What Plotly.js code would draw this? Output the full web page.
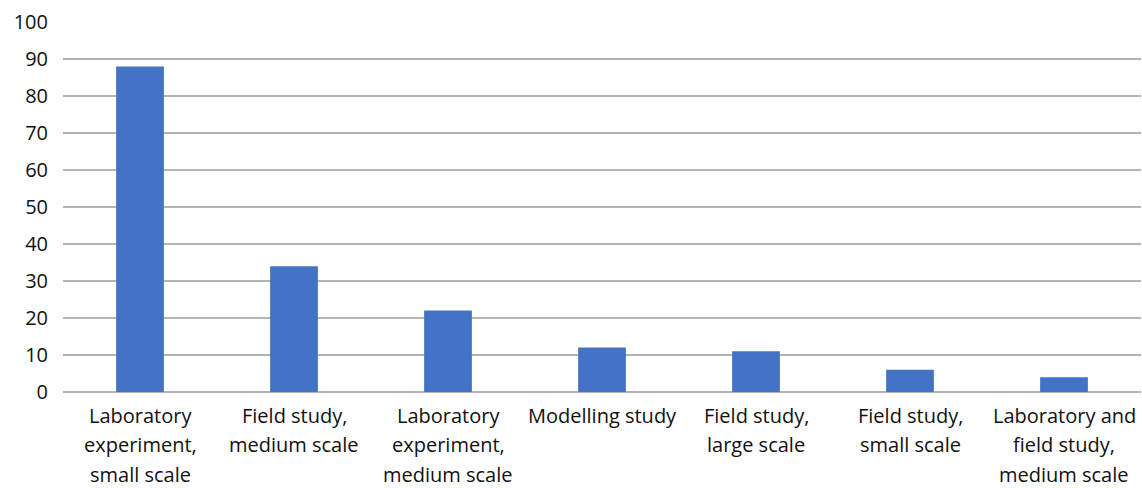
<!DOCTYPE html>
<html><head><meta charset="utf-8">
<script src="https://cdn.plot.ly/plotly-3.0.1.min.js"></script>
<style>html,body{margin:0;padding:0;background:#fff}#c{width:1142px;height:488px}</style>
</head><body><div id="c"></div>
<script>
const categories = ["Laboratory experiment, small scale","Field study, medium scale","Laboratory experiment, medium scale","Modelling study","Field study, large scale","Field study, small scale","Laboratory and field study, medium scale"];
const labelLines = [["Laboratory","experiment,","small scale"],["Field study,","medium scale"],["Laboratory","experiment,","medium scale"],["Modelling study"],["Field study,","large scale"],["Field study,","small scale"],["Laboratory and","field study,","medium scale"]];
const values = [88,34,22,12,11,6,4];
const yTicks = [0,10,20,30,40,50,60,70,80,90,100];

const FONT = "Open Sans, sans-serif";
const annotations = [];
labelLines.forEach((lines, i) => {
  lines.forEach((t, j) => {
    annotations.push({x: categories[i], y: 0, xref: 'x', yref: 'y', text: t, showarrow: false,
      yanchor: 'middle', xanchor: 'center', yshift: -23 - 29.5*j,
      font: {family: FONT, size: 20, color: '#111'}});
  });
});

Plotly.newPlot('c', [{
  type: 'bar', x: categories, y: values,
  marker: {color: '#4472C4'}, hoverinfo: 'skip'
}], {
  width: 1142, height: 488,
  margin: {l: 63, r: 1, t: 22, b: 96},
  paper_bgcolor: '#fff', plot_bgcolor: '#fff',
  bargap: 0.69,
  showlegend: false,
  xaxis: {showticklabels: false, showgrid: false, zeroline: false, showline: false, ticks: ''},
  yaxis: {range: [0, 100], tickvals: yTicks, ticktext: yTicks.map(String),
    showgrid: true, gridcolor: '#b4b4b4', gridwidth: 1.6, zeroline: true, zerolinecolor: '#b4b4b4', zerolinewidth: 1.6,
    showline: false, ticks: '', ticklabelstandoff: 14,
    tickfont: {family: FONT, size: 20, color: '#111'}},
  annotations: annotations
}, {staticPlot: true});
</script></body></html>
